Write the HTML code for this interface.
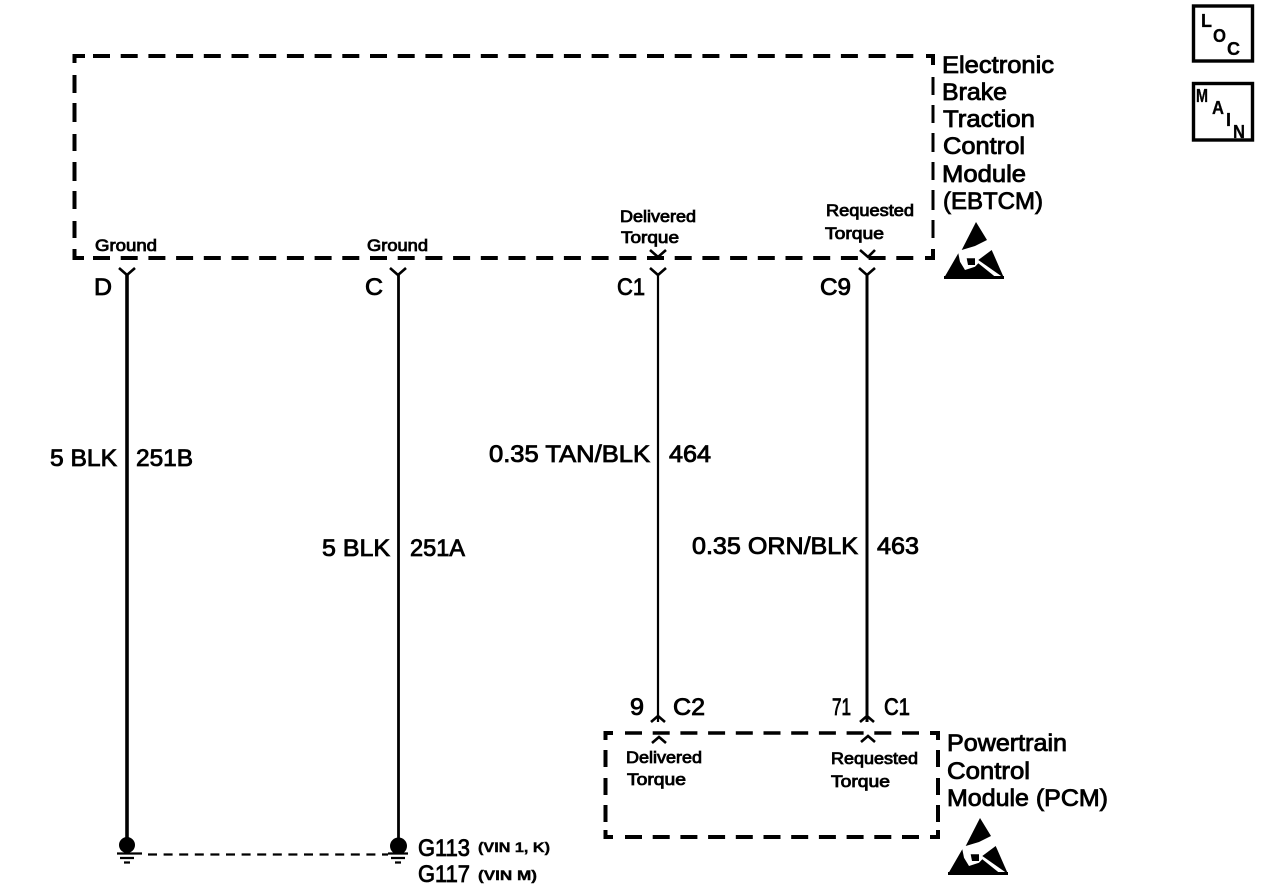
<!DOCTYPE html>
<html>
<head>
<meta charset="utf-8">
<style>
html,body{margin:0;padding:0;background:#fff;width:1280px;height:894px;overflow:hidden}
svg{display:block}
text{font-family:"Liberation Sans",sans-serif;fill:#000;stroke:#000}
.l{font-size:24px;stroke-width:.85px}
.s{font-size:17px;stroke-width:.85px}
.v{font-size:14px;font-weight:bold;stroke-width:.4px}
.b{font-size:18px;font-weight:bold;stroke-width:.3px}
.d{fill:none;stroke:#000;stroke-width:4;stroke-dasharray:17 10.7}
.e{fill:none;stroke:#000;stroke-width:4}
.w{fill:none;stroke:#000}
.c{fill:none;stroke:#000;stroke-width:2.6}
</style>
</head>
<body>
<svg width="1280" height="894" viewBox="0 0 1280 894" xmlns="http://www.w3.org/2000/svg">
<defs>
<g id="esd">
<polygon fill="#000" points="976,222 987,240 975,246 961.7,250"/>
<polygon fill="#000" points="944,278 958.3,253.3 960,261.7 965,270 975,266.7 978.3,263.3 996.7,278"/>
<polygon fill="#000" points="966.7,258.3 975,258.3 975,265 968,265"/>
<polygon fill="#000" points="978.3,260 991.7,250 1004,278"/>
<polygon fill="#000" points="944,276 1004,276 1004,279 944,279"/>
</g>
</defs>

<!-- EBTCM box -->
<path class="e" d="M85 56H74.5V63"/>
<line class="d" x1="93" y1="56" x2="915" y2="56"/>
<path class="e" d="M926 56H933V65" stroke-width="3.5"/>
<path class="e" d="M74.5 75V93M74.5 103V122M74.5 134V151M74.5 162V181M74.5 191V209M74.5 221V238" stroke-width="4.6"/>
<path class="e" d="M74.5 249V258H84"/>
<line class="d" x1="93" y1="258" x2="915" y2="258"/>
<path class="e" d="M925 258H933V249" stroke-width="3.5"/>
<path class="e" d="M933 77V95M933 105V123M933 133V152M933 162V180M933 190V210M933 220V238" style="stroke-width:3"/>

<!-- PCM box -->
<path class="e" d="M613 733H605.5V740"/>
<line class="d" x1="625" y1="733" x2="920" y2="733" style="stroke-width:3.6"/>
<path class="e" d="M930 733H938V740"/>
<path class="e" d="M605.5 750V767M605.5 778V795M605.5 805V822"/>
<path class="e" d="M605.5 830V837H613"/>
<line class="d" x1="625" y1="837" x2="920" y2="837"/>
<path class="e" d="M930 837H938V830"/>
<path class="e" d="M938 750V767M938 778V795M938 805V822"/>

<!-- wires -->
<line class="w" x1="127" y1="274" x2="127" y2="845" stroke-width="3.6"/>
<line class="w" x1="398.5" y1="274" x2="398.5" y2="845" stroke-width="2.8"/>
<line class="w" x1="658" y1="274" x2="658" y2="722" stroke-width="2.2"/>
<line class="w" x1="867" y1="274" x2="867" y2="722" stroke-width="3"/>

<!-- connectors -->
<polyline class="c" points="119,268 127,275 135,268"/>
<polyline class="c" points="390,268 398,275 406,268"/>
<polyline class="c" points="650,268 658,275 666,268"/>
<polyline class="c" points="859,268 867,275 875,268"/>
<polyline class="c" points="650,250 658,257 666,250"/>
<polyline class="c" points="860,250 868,257 875,250"/>
<polyline class="c" points="651,722 658,716 665,722"/>
<polyline class="c" points="860,722 867,716 874,722"/>
<polyline class="c" points="652,743 659,737 666,743"/>
<polyline class="c" points="861,742 868,736 875,742"/>

<!-- grounds -->
<circle cx="127" cy="845" r="8" fill="#000"/>
<circle cx="398.5" cy="846" r="8.5" fill="#000"/>
<line x1="148" y1="854.5" x2="388" y2="854.5" stroke="#000" stroke-width="2.2" stroke-dasharray="9 6.6"/>
<path d="M117 853.5H142M120 858H134M124 862.5H130" stroke="#000" stroke-width="2.2" fill="none"/>
<path d="M388 853.5H408M391 858H405M395 862.5H401" stroke="#000" stroke-width="2.2" fill="none"/>

<!-- ESD symbols -->
<use href="#esd"/>
<use href="#esd" transform="translate(4,596)"/>

<!-- EBTCM label -->
<text class="l" x="942" y="73" textLength="112" lengthAdjust="spacingAndGlyphs">Electronic</text>
<text class="l" x="942" y="100" textLength="65" lengthAdjust="spacingAndGlyphs">Brake</text>
<text class="l" x="943" y="127" textLength="92" lengthAdjust="spacingAndGlyphs">Traction</text>
<text class="l" x="943" y="154" textLength="82" lengthAdjust="spacingAndGlyphs">Control</text>
<text class="l" x="942" y="182" textLength="84" lengthAdjust="spacingAndGlyphs">Module</text>
<text class="l" x="943" y="209" textLength="100" lengthAdjust="spacingAndGlyphs">(EBTCM)</text>

<!-- PCM label -->
<text class="l" x="947" y="751" textLength="120" lengthAdjust="spacingAndGlyphs">Powertrain</text>
<text class="l" x="947" y="779" textLength="83" lengthAdjust="spacingAndGlyphs">Control</text>
<text class="l" x="947" y="806" textLength="161" lengthAdjust="spacingAndGlyphs">Module (PCM)</text>

<!-- pin function labels -->
<text class="s" x="95" y="251" textLength="62" lengthAdjust="spacingAndGlyphs">Ground</text>
<text class="s" x="367" y="251" textLength="61" lengthAdjust="spacingAndGlyphs">Ground</text>
<text class="s" x="620" y="222" textLength="76" lengthAdjust="spacingAndGlyphs">Delivered</text>
<text class="s" x="621" y="243" textLength="58" lengthAdjust="spacingAndGlyphs">Torque</text>
<text class="s" x="826" y="216" textLength="88" lengthAdjust="spacingAndGlyphs">Requested</text>
<text class="s" x="825" y="239" textLength="59" lengthAdjust="spacingAndGlyphs">Torque</text>
<text class="s" x="626" y="763" textLength="76" lengthAdjust="spacingAndGlyphs">Delivered</text>
<text class="s" x="627" y="785" textLength="59" lengthAdjust="spacingAndGlyphs">Torque</text>
<text class="s" x="831" y="764" textLength="87" lengthAdjust="spacingAndGlyphs">Requested</text>
<text class="s" x="831" y="787" textLength="59" lengthAdjust="spacingAndGlyphs">Torque</text>

<!-- pin labels -->
<text class="l" x="94" y="295" textLength="18" lengthAdjust="spacingAndGlyphs">D</text>
<text class="l" x="365" y="295" textLength="18" lengthAdjust="spacingAndGlyphs">C</text>
<text class="l" x="617" y="295" textLength="28" lengthAdjust="spacingAndGlyphs">C1</text>
<text class="l" x="820" y="295" textLength="31" lengthAdjust="spacingAndGlyphs">C9</text>
<text class="l" x="630" y="715" textLength="14" lengthAdjust="spacingAndGlyphs">9</text>
<text class="l" x="673" y="715" textLength="32" lengthAdjust="spacingAndGlyphs">C2</text>
<text class="l" x="832" y="715" textLength="19" lengthAdjust="spacingAndGlyphs">71</text>
<text class="l" x="884" y="715" textLength="26" lengthAdjust="spacingAndGlyphs">C1</text>

<!-- wire labels -->
<text class="l" x="50" y="466" textLength="67" lengthAdjust="spacingAndGlyphs">5 BLK</text>
<text class="l" x="136" y="466" textLength="57" lengthAdjust="spacingAndGlyphs">251B</text>
<text class="l" x="322" y="556" textLength="68" lengthAdjust="spacingAndGlyphs">5 BLK</text>
<text class="l" x="410" y="556" textLength="55" lengthAdjust="spacingAndGlyphs">251A</text>
<text class="l" x="489" y="462" textLength="161" lengthAdjust="spacingAndGlyphs">0.35 TAN/BLK</text>
<text class="l" x="669" y="462" textLength="42" lengthAdjust="spacingAndGlyphs">464</text>
<text class="l" x="692" y="554" textLength="166" lengthAdjust="spacingAndGlyphs">0.35 ORN/BLK</text>
<text class="l" x="877" y="554" textLength="42" lengthAdjust="spacingAndGlyphs">463</text>

<!-- ground labels -->
<text class="l" x="418" y="856" textLength="52" lengthAdjust="spacingAndGlyphs">G113</text>
<text class="l" x="418" y="882" textLength="52" lengthAdjust="spacingAndGlyphs">G117</text>
<text class="v" x="478" y="852" textLength="72" lengthAdjust="spacingAndGlyphs">(VIN 1, K)</text>
<text class="v" x="478" y="880" textLength="59" lengthAdjust="spacingAndGlyphs">(VIN M)</text>

<!-- LOC / MAIN boxes -->
<rect x="1193.5" y="6" width="59" height="55" fill="none" stroke="#000" stroke-width="3.4"/>
<text class="b" x="1201" y="27">L</text>
<text class="b" x="1213" y="42" textLength="13" lengthAdjust="spacingAndGlyphs">O</text>
<text class="b" x="1227" y="55" textLength="13" lengthAdjust="spacingAndGlyphs">C</text>
<rect x="1193.5" y="83.5" width="59" height="56.5" fill="none" stroke="#000" stroke-width="3.4"/>
<text class="b" x="1196" y="102" textLength="12" lengthAdjust="spacingAndGlyphs">M</text>
<text class="b" x="1212" y="114" textLength="12" lengthAdjust="spacingAndGlyphs">A</text>
<text class="b" x="1226" y="126">I</text>
<text class="b" x="1233" y="138" textLength="12" lengthAdjust="spacingAndGlyphs">N</text>
</svg>
</body>
</html>
